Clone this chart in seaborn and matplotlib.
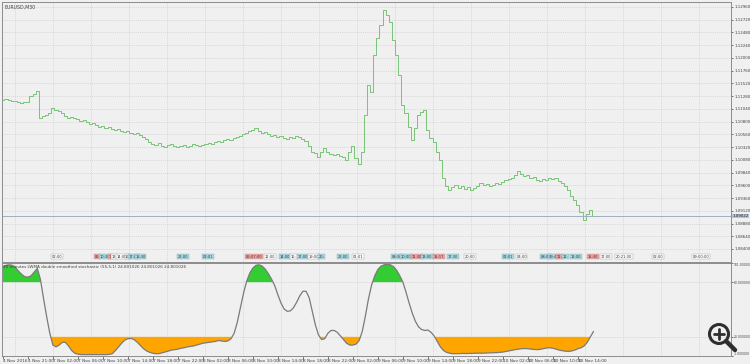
import numpy as np
import pandas as pd
import matplotlib
matplotlib.use("Agg")
import matplotlib.pyplot as plt
from matplotlib.patches import Circle
import seaborn as sns

# ---------------- data ----------------
close = [
    1.11208, 1.11227, 1.11208, 1.11189, 1.11189, 1.11170, 1.11151, 1.11170, 1.11170, 1.11283, 1.11321, 1.11377,
    1.10869, 1.10906, 1.10925, 1.10963, 1.11057, 1.11019, 1.11000, 1.10963, 1.10906, 1.10869, 1.10887, 1.10869,
    1.10850, 1.10812, 1.10831, 1.10793, 1.10755, 1.10774, 1.10737, 1.10699,
    1.10718, 1.10680, 1.10699, 1.10661, 1.10642, 1.10661, 1.10624, 1.10605,
    1.10624, 1.10586, 1.10567, 1.10586, 1.10548, 1.10511, 1.10473, 1.10416,
    1.10379, 1.10360, 1.10397, 1.10341, 1.10322, 1.10360, 1.10379, 1.10341,
    1.10322, 1.10341, 1.10360, 1.10322, 1.10341, 1.10379, 1.10360, 1.10341,
    1.10360, 1.10379, 1.10397, 1.10379, 1.10416, 1.10435, 1.10416, 1.10454,
    1.10473, 1.10454, 1.10492, 1.10511, 1.10529, 1.10567, 1.10586, 1.10624,
    1.10642, 1.10680, 1.10624, 1.10586, 1.10605, 1.10567, 1.10529, 1.10548,
    1.10511, 1.10529, 1.10492, 1.10473, 1.10511, 1.10492, 1.10529, 1.10511,
    1.10473, 1.10435, 1.10341, 1.10228, 1.10209, 1.10134, 1.10228, 1.10303, 1.10228, 1.10190,
    1.10171, 1.10190, 1.10152, 1.10134, 1.10077, 1.10228, 1.10341, 1.10115, 1.10002, 1.10228,
    1.10925, 1.11490, 1.11358, 1.12056, 1.12376, 1.12621, 1.12904, 1.12809, 1.12677, 1.12338,
    1.12056, 1.11679, 1.11113, 1.10963, 1.10699, 1.10454, 1.10680, 1.10925, 1.10982, 1.11019,
    1.10642, 1.10492, 1.10416, 1.10228, 1.10077, 1.09738, 1.09587, 1.09512,
    1.09568, 1.09606, 1.09550, 1.09587, 1.09531, 1.09568, 1.09512, 1.09550,
    1.09587, 1.09644, 1.09606, 1.09625, 1.09587, 1.09606, 1.09644, 1.09625,
    1.09663, 1.09700, 1.09719, 1.09738, 1.09794, 1.09870, 1.09813, 1.09776,
    1.09794, 1.09738, 1.09757, 1.09700, 1.09681, 1.09719, 1.09700, 1.09738,
    1.09719, 1.09738, 1.09681, 1.09644, 1.09587, 1.09512, 1.09399, 1.09323,
    1.09229, 1.09097, 1.08947, 1.09060, 1.09135, 1.09022,
]

stoch = [
    97, 98.5, 99, 98.5, 96, 92, 88.5, 86, 85.5, 87, 91, 95,
    83, 62, 42, 24, 11, 9, 11, 14, 14, 10, 5, 2, 1,
    0.5, 0.5, 0.4, 0.4, 0.5, 0.5, 0.5, 0.4, 0.5, 0.8, 1.5,
    5, 9, 13, 16.5, 18, 18.2, 17, 14, 10.5, 7, 4.5, 3, 2, 1.5, 1.6,
    2.5, 3.5, 4.5, 5.5, 6, 6.5, 7.5, 8, 9, 9.5, 10, 11, 12, 13, 13.5, 14, 14.5, 15, 16, 15.5, 15, 15.5,
    18, 24, 36, 52, 68, 81, 90, 95.5, 98.5, 99, 97.5, 94, 89, 83, 76, 66, 57, 50.5, 48, 48.5, 52, 58, 65, 70, 70,
    63, 48, 33, 22, 17, 18, 24, 27, 27, 25, 21, 17, 13, 11, 11, 12, 16, 26,
    43, 62, 77, 87, 94, 97.5, 99, 99.5, 99, 97, 93, 87, 80, 69, 57, 46, 37, 31, 28, 27, 27.5, 25, 21, 15, 9, 5, 3, 2,
    1.5, 1.5, 1.6, 1.8, 1.7, 1.8, 2, 2, 2.1, 2, 2.2, 2.3, 2.4, 2.5, 2.7, 3,
    3.3, 4, 4.8, 5.5, 6, 6.5, 7, 7.2, 7, 6.5, 6.2, 6, 6.3, 7, 7.8, 8, 7.5, 6.5, 5.5, 4.8,
    4.3, 4, 4.5, 5.5, 7, 8, 10, 14, 20, 26,
]

time_labels = ["4 Nov 2016", "4 Nov 21:00", "7 Nov 02:00", "7 Nov 06:00", "7 Nov 10:00",
               "7 Nov 14:00", "7 Nov 18:00", "7 Nov 22:00", "8 Nov 02:00", "8 Nov 06:00",
               "8 Nov 10:00", "8 Nov 14:00", "8 Nov 18:00", "8 Nov 22:00", "9 Nov 02:00",
               "9 Nov 06:00", "9 Nov 10:00", "9 Nov 14:00", "9 Nov 18:00", "9 Nov 22:00",
               "10 Nov 02:00", "10 Nov 06:00", "10 Nov 10:00", "10 Nov 14:00"]

price_ticks = [1.08400, 1.08640, 1.08880, 1.09120, 1.09360, 1.09600, 1.09840, 1.10080,
               1.10320, 1.10560, 1.10800, 1.11040, 1.11280, 1.11520, 1.11760, 1.12000,
               1.12240, 1.12480, 1.12720, 1.12960]
stoch_ticks = [-1, 20, 80, 101]

event_bars = [17.3, 30.4, 32.6, 34.6, 35.8, 38, 40, 42, 44, 57.6, 65.6, 80.3, 85.4, 90.2, 93,
              96, 99.5, 102, 108.8, 113.6, 126, 129, 132.5, 135.7, 139.5, 144, 149.4, 161.6,
              166, 173.8, 176.3, 178.2, 180, 183.4, 188.8, 193, 198.7, 209.6, 223.4]
event_text = ["02:00", "05:", "10:30", "11:", "13:", "14:00", "16:", "17:00", "18:30", "22:00",
              "02:01", "05:07:00", "12:00", "14:00", "16:", "17:00", "19:00", "20:", "22:00",
              "01:01", "08:30", "10:00", "11:30", "13:00", "15:17", "17:30", "20:00", "02:01",
              "04:00", "08:00", "09:45", "11:", "12:", "13:00", "15:30", "17:00", "20:21:00",
              "02:00", "09:00:00"]
event_kind = ["w", "p", "c", "p", "w", "w", "w", "c", "c", "c",
              "c", "p", "w", "c", "w", "c", "w", "c", "c",
              "w", "c", "c", "p", "c", "p", "c", "w", "c",
              "w", "c", "c", "p", "c", "c", "p", "w", "w",
              "w", "w"]

df = pd.DataFrame({"bar": np.arange(len(close)), "close": close, "stoch": stoch})

# ---------------- style ----------------
sns.set_theme(style="white")
NARROW = ["Liberation Sans Narrow", "DejaVu Sans"]
plt.rcParams["font.family"] = NARROW
BG = "#f0f0f0"
GRID = "#cfcfcf"
TXT = "#404040"
FS = 3.4
FSR = 2.9

W, H = 750, 364
fig = plt.figure(figsize=(W / 100, H / 100), dpi=100, facecolor=BG)
ax1 = fig.add_axes([2 / W, 1 - 262 / H, 729 / W, 260 / H])
ax2 = fig.add_axes([2 / W, 1 - 356 / H, 729 / W, 93 / H], sharex=ax1)
for ax in (ax1, ax2):
    ax.set_facecolor(BG)
    for s in ax.spines.values():
        s.set_color("#8c8c8c")
        s.set_linewidth(0.7)

# price
sns.lineplot(data=df, x="bar", y="close", ax=ax1, color="#78c478", lw=0.7,
             drawstyle="steps-mid", legend=False)
ax1.axhline(close[-1], color="#9fb0c2", lw=0.7)
ax1.set_ylim(1.08155, 1.13054)
ax1.set_xlim(-0.3, 233)
ax1.yaxis.tick_right()
ax1.set_yticks(price_ticks)
ax1.set_yticklabels([f"{v:.5f}" for v in price_ticks])
ax1.tick_params(axis="y", labelsize=FSR, colors=TXT, length=1.5, width=0.5, pad=0.8, right=True)
ax1.tick_params(axis="x", bottom=False, labelbottom=False)
ax1.grid(axis="y", color=GRID, lw=0.5, ls=(0, (1.5, 1.5)))
ax1.set_xlabel("")
ax1.set_ylabel("")
ax1.text(1.002, close[-1], f"{close[-1]:.5f}", transform=ax1.get_yaxis_transform(),
         fontsize=FSR, color="#222222", va="center", ha="left",
         bbox=dict(fc="#b5c6d8", ec="none", pad=0.3), clip_on=False)
ax1.text(0.003, 0.988, "EURUSD,M30", transform=ax1.transAxes, fontsize=FS, color=TXT,
         va="top", ha="left")

colors = {"w": "#ffffff", "c": "#a8dbe6", "p": "#f3a3a3"}
for b, t, k in zip(event_bars, event_text, event_kind):
    ax1.text(b, 0.02, t, transform=ax1.get_xaxis_transform(), fontsize=2.6, color="#333333",
             ha="center", va="center",
             bbox=dict(fc=colors[k], ec="#a0a0a0", lw=0.3, pad=0.4))

# indicator
x = df["bar"].to_numpy()
y = df["stoch"].to_numpy()
ax2.fill_between(x, 80, y, where=y > 80, interpolate=True, color="#33cc33", lw=0)
ax2.fill_between(x, y, 20, where=y < 20, interpolate=True, color="#ffa500", lw=0)
sns.lineplot(data=df, x="bar", y="stoch", ax=ax2, color="#7a7a7a", lw=0.9, legend=False)
ax2.set_ylim(-1, 101)
ax2.yaxis.tick_right()
ax2.set_yticks(stoch_ticks)
ax2.set_yticklabels([f"{v:.6f}" for v in stoch_ticks])
ax2.tick_params(axis="y", labelsize=2.2, colors=TXT, length=1.5, width=0.5, pad=0.6, right=True)
ylabs = ax2.get_yticklabels()
ylabs[0].set_va("bottom")
ylabs[-1].set_va("top")
ax2.grid(axis="y", color=GRID, lw=0.5, ls=(0, (1.5, 1.5)))
ax2.set_xlabel("")
ax2.set_ylabel("")
ax2.text(0.002, 0.975, "30 minutes LWMA double smoothed stochastic (55,5,1) 24.801026 24.801026 24.801026",
         transform=ax2.transAxes, fontsize=3.0, color=TXT, va="top", ha="left")

# time axis
ax2.set_xticks(np.arange(len(time_labels)) * 8)
ax2.set_xticklabels(time_labels)
for lab in ax2.get_xticklabels():
    lab.set_ha("left")
ax2.tick_params(axis="x", labelsize=3.1, colors=TXT, length=2, width=0.5, pad=0.5, bottom=True)
ax2.set_xticks(np.arange(4, 233, 12.16), minor=True)
ax2.tick_params(axis="x", which="minor", length=0)
for ax in (ax1, ax2):
    ax.grid(axis="x", which="minor", color=GRID, lw=0.5, ls=(0, (1.5, 1.5)))
    ax.grid(axis="x", which="major", visible=False)
ax2.set_xlim(-0.3, 233)

# zoom icon overlay
ov = fig.add_axes([0, 0, 1, 1], facecolor="none")
ov.set_xlim(0, W)
ov.set_ylim(H, 0)
ov.axis("off")
ov.add_patch(Circle((719, 334), 9.5, fill=False, ec="#2e2e2e", lw=2.2))
ov.plot([726, 735], [341, 350], color="#2e2e2e", lw=3.2, solid_capstyle="round")
ov.plot([714, 724], [334, 334], color="#2e2e2e", lw=2.0)
ov.plot([719, 719], [329, 339], color="#2e2e2e", lw=2.0)

fig.savefig("out.png", dpi=100, facecolor=BG)
